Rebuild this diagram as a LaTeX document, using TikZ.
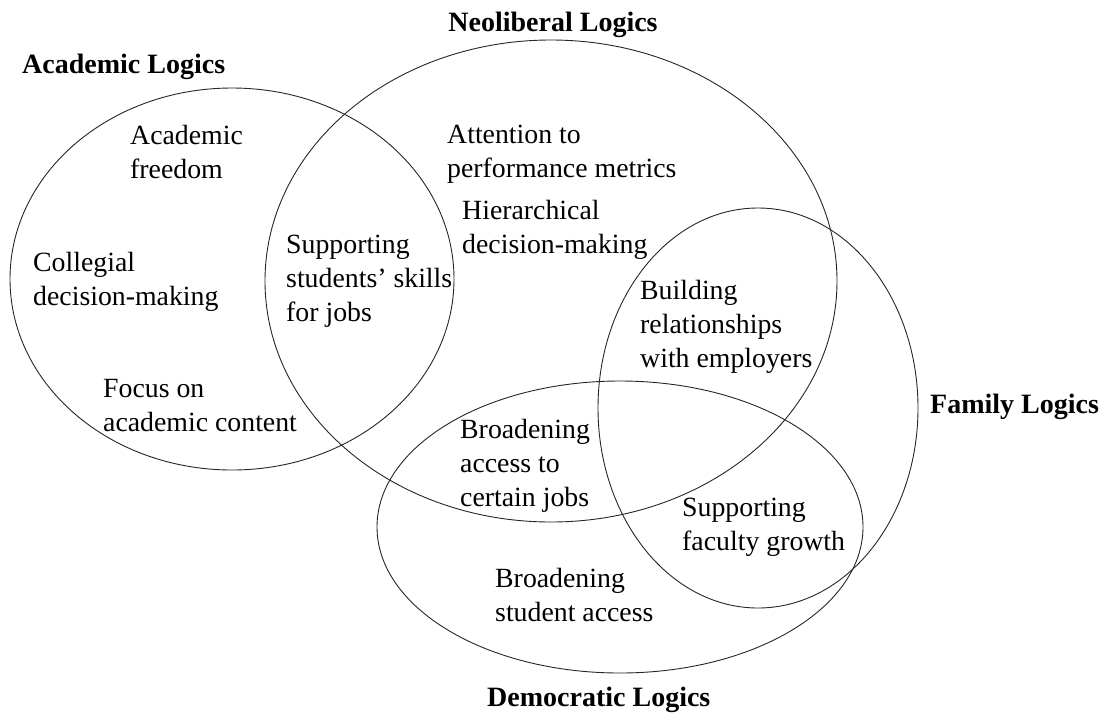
\documentclass[tikz,border=0pt]{standalone}
\usepackage{fontspec}
\setmainfont{Liberation Serif}
\begin{document}
\begin{tikzpicture}[x=1pt,y=-1pt,
  set/.style={draw=black!85, line width=0.9pt},
  txt/.style={anchor=north west, inner sep=0pt, align=left,
    font=\fontsize{27.8}{34}\selectfont,
    execute at begin node={\rule{0pt}{20pt}}},
  lbl/.style={txt, font=\fontsize{28}{34}\selectfont\bfseries}]
\useasboundingbox (0,0) rectangle (1103,713);
% set centres
\coordinate (cA) at (232,279);
\coordinate (cN) at (551,281);
\coordinate (cF) at (758,408);
\coordinate (cD) at (620,527);
% sets
\draw[set] (cA) ellipse [x radius=222, y radius=191];
\draw[set] (cN) ellipse [x radius=286, y radius=241];
\draw[set] (cF) ellipse [x radius=160, y radius=200];
\draw[set] (cD) ellipse [x radius=243, y radius=146];
% set labels
\node[lbl] (lA) at (22,53) {Academic Logics};
\node[lbl, anchor=north] (lN) at (553,11) {Neoliberal Logics};
\node[lbl] (lF) at (930,393) {Family Logics};
\node[lbl] (lD) at (487,686) {Democratic Logics};
% contents
\node[txt] (t1) at (130,125) {Academic\\freedom};
\node[txt] (t2) at (33,252) {Collegial\\decision-making};
\node[txt] (t3) at (103,379) {Focus on\\academic content};
\node[txt] (t4) at (286,235) {Supporting\\students’ skills\\for jobs};
\node[txt] (t5) at (447,125) {Attention to\\performance metrics};
\node[txt] (t6) at (462,200) {Hierarchical\\decision-making};
\node[txt] (t7) at (640,280) {Building\\relationships\\with employers};
\node[txt] (t8) at (460,419) {Broadening\\access to\\certain jobs};
\node[txt] (t9) at (682,498) {Supporting\\faculty growth};
\node[txt] (t10) at (495,568) {Broadening\\student access};
\end{tikzpicture}
\end{document}
